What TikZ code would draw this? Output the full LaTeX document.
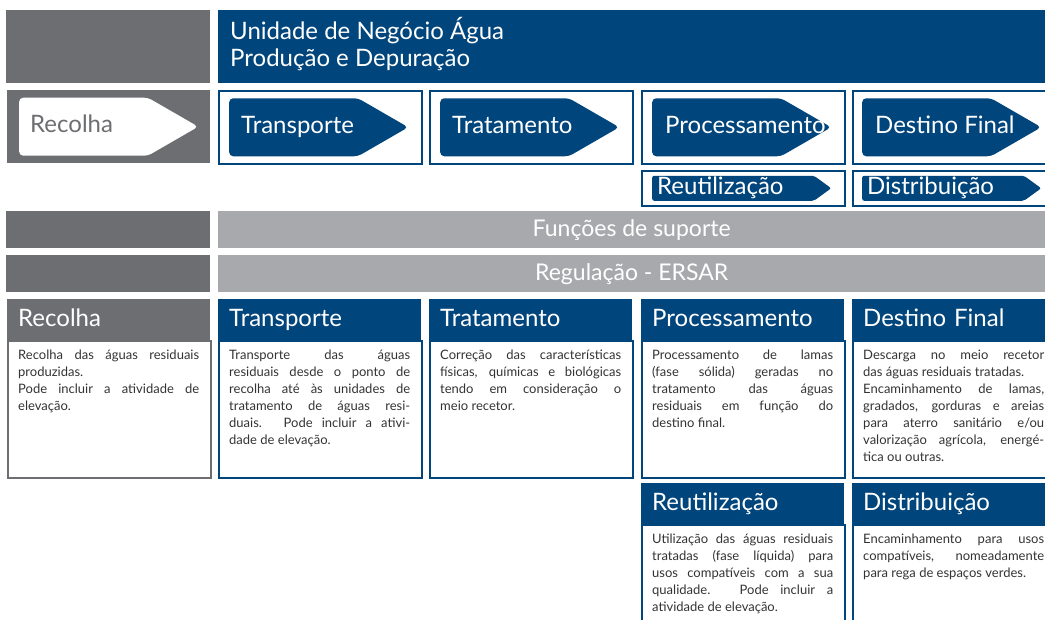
\documentclass[tikz,border=0pt]{standalone}
\usepackage{fontspec}
\setmainfont{Lato}
\usetikzlibrary{shapes.symbols, positioning}
\definecolor{agblue}{HTML}{00457C}
\definecolor{aggrey}{HTML}{6D6E71}
\definecolor{aglight}{HTML}{A7A9AC}
\definecolor{agtext}{HTML}{333333}

\begin{document}
\begin{tikzpicture}[x=1pt, y=-1pt, font=\fontsize{24}{27}\selectfont]
\tikzset{block/.style={rectangle, anchor=north west, inner sep=0, minimum width=203pt}, frame/.style={block, draw=agblue, line width=1.5pt, fill=white}, tag/.style={signal, signal to=east, signal pointer angle=60, rounded corners=4pt, anchor=west, inner sep=0, minimum width=179pt, minimum height=58pt, fill=agblue}, smalltag/.style={tag, signal pointer angle=72, minimum height=25pt, rounded corners=2pt}, taglabel/.style={inner sep=0, anchor=west, text=white, text height=17pt, text depth=5pt}, bar/.style={block, fill=aglight, minimum width=827pt, minimum height=37pt, text=white, font=\fontsize{23}{26}\selectfont}, cardhead/.style={block, fill=agblue, minimum height=41pt, text width=181pt, inner xsep=11pt, align=left, text=white, text height=18pt, text depth=4pt}, cardbody/.style={block, draw=agblue, line width=1.5pt, minimum height=137pt}, cardtext/.style={inner sep=0, text width=181pt, align=justify, text=agtext, font=\fontsize{13}{17}\selectfont}}
\useasboundingbox (0,0) rectangle (1045,619);
\clip (0,0) rectangle (1045,619);
% top row
\node[block, fill=aggrey, minimum width=204pt, minimum height=73pt] (G0) at (6,10) {};
\node[block, fill=agblue, minimum width=827pt, minimum height=73pt] (UN) at (218,10) {};
\node[inner sep=0, anchor=west, align=left, text=white, right=12pt of UN.west, yshift=3pt] (UNt) {Unidade de Negócio Água\\Produção e Depuração};
% arrows
\node[block, fill=aggrey, minimum height=73pt] (R0) at (7,90) {};
\node[frame, minimum height=73pt] (R1) at (218,90) {};
\node[frame, minimum height=73pt] (R2) at (429,90) {};
\node[frame, minimum height=73pt] (R3) at (641,90) {};
\node[frame, minimum height=73pt] (R4) at (852,90) {};
\node[tag, fill=white, right=12pt of R0.west] (A0) {};
\node[tag, right=11pt of R1.west] (A1) {};
\node[tag, right=11pt of R2.west] (A2) {};
\node[tag, right=11pt of R3.west] (A3) {};
\node[tag, right=10pt of R4.west] (A4) {};
\node[taglabel, text=aggrey, right=11pt of A0.west] (L0) {Recolha};
\node[taglabel, right=12pt of A1.west] (L1) {Transporte};
\node[taglabel, right=12pt of A2.west] (L2) {Tratamento};
\node[taglabel, right=13pt of A3.west] (L3) {Processamento};
\node[taglabel, right=13pt of A4.west] (L4) {Destino Final};
\node[frame, minimum height=35pt] (S3) at (641,170) {};
\node[frame, minimum height=35pt] (S4) at (852,170) {};
\node[smalltag, right=11pt of S3.west] (U3) {};
\node[smalltag, right=10pt of S4.west] (U4) {};
\node[taglabel, right=5pt of U3.west] (M3) {Reutilização};
\node[taglabel, right=5pt of U4.west] (M4) {Distribuição};
% bars
\node[block, fill=aggrey, minimum width=204pt, minimum height=37pt] (F0) at (6,211) {};
\node[bar] (F1) at (218,211) {Funções de suporte};
\node[block, fill=aggrey, minimum width=204pt, minimum height=37pt] (E0) at (6,255) {};
\node[bar] (E1) at (218,255) {Regulação - ERSAR};
% cards
\node[cardhead, fill=aggrey] (H0) at (7,299) {Recolha};
\node[cardbody, draw=aggrey] (B0) at (H0.south west) {};
\node[cardhead] (H1) at (218,299) {Transporte};
\node[cardbody] (B1) at (H1.south west) {};
\node[cardhead] (H2) at (429,299) {Tratamento};
\node[cardbody] (B2) at (H2.south west) {};
\node[cardhead] (H3) at (641,299) {Processamento};
\node[cardbody] (B3) at (H3.south west) {};
\node[cardhead] (H4) at (852,299) {Destino Final};
\node[cardbody] (B4) at (H4.south west) {};
\node[cardhead] (H5) at (641,483) {Reutilização};
\node[cardbody, minimum height=145pt] (B5) at (H5.south west) {};
\node[cardhead] (H6) at (852,483) {Distribuição};
\node[cardbody, minimum height=145pt] (B6) at (H6.south west) {};
\node[cardtext, below right=9pt and 11pt of B0.north west] (T0) {Recolha das águas residuais\linebreak produzidas.\\Pode incluir a atividade de\linebreak elevação.};
\node[cardtext, below right=9pt and 11pt of B1.north west] (T1) {Transporte das águas\linebreak residuais desde o ponto de\linebreak recolha até às unidades de\linebreak tratamento de águas resi-\linebreak duais. Pode incluir a ativi-\linebreak dade de elevação.};
\node[cardtext, below right=9pt and 11pt of B2.north west] (T2) {Correção das características\linebreak físicas, químicas e biológicas\linebreak tendo em consideração o\linebreak meio recetor.};
\node[cardtext, below right=9pt and 11pt of B3.north west] (T3) {Processamento de lamas\linebreak (fase sólida) geradas no\linebreak tratamento das águas\linebreak residuais em função do\linebreak destino final.};
\node[cardtext, below right=9pt and 11pt of B4.north west] (T4) {Descarga no meio recetor\linebreak das águas residuais tratadas.\\Encaminhamento de lamas,\linebreak gradados, gorduras e areias\linebreak para aterro sanitário e/ou\linebreak valorização agrícola, energé-\linebreak tica ou outras.};
\node[cardtext, below right=9pt and 11pt of B5.north west] (T5) {Utilização das águas residuais\linebreak tratadas (fase líquida) para\linebreak usos compatíveis com a sua\linebreak qualidade. Pode incluir a\linebreak atividade de elevação.};
\node[cardtext, below right=9pt and 11pt of B6.north west] (T6) {Encaminhamento para usos\linebreak compatíveis, nomeadamente\linebreak para rega de espaços verdes.};
\end{tikzpicture}
\end{document}
